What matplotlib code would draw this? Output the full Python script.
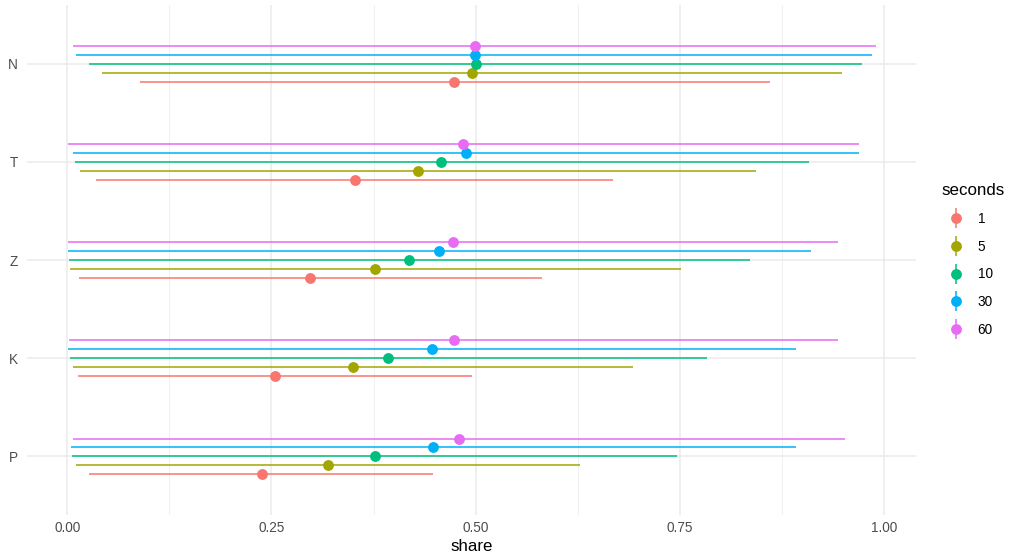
import matplotlib.pyplot as plt
from matplotlib.lines import Line2D
from matplotlib.legend_handler import HandlerTuple
from matplotlib.ticker import MultipleLocator

plt.rcParams['font.family'] = ['Liberation Sans', 'DejaVu Sans']

# categories bottom -> top
cats = ['P', 'K', 'Z', 'T', 'N']
seconds = ['1', '5', '10', '30', '60']
colors = ['#F8766D', '#A3A500', '#00BF7D', '#00B0F6', '#E76BF3']

# point estimates, per series, in category order P, K, Z, T, N
share = {
    '1':  [0.238, 0.254, 0.297, 0.352, 0.473],
    '5':  [0.319, 0.350, 0.377, 0.430, 0.495],
    '10': [0.377, 0.393, 0.419, 0.458, 0.500],
    '30': [0.448, 0.447, 0.455, 0.488, 0.499],
    '60': [0.480, 0.473, 0.472, 0.485, 0.499],
}
lower = {
    '1':  [0.027, 0.013, 0.014, 0.035, 0.089],
    '5':  [0.010, 0.007, 0.003, 0.015, 0.043],
    '10': [0.006, 0.003, 0.002, 0.009, 0.026],
    '30': [0.005, 0.001, 0.001, 0.007, 0.010],
    '60': [0.007, 0.002, 0.001, 0.001, 0.007],
}
upper = {
    '1':  [0.448, 0.495, 0.581, 0.668, 0.860],
    '5':  [0.628, 0.693, 0.751, 0.844, 0.949],
    '10': [0.747, 0.784, 0.836, 0.908, 0.973],
    '30': [0.893, 0.893, 0.911, 0.969, 0.986],
    '60': [0.952, 0.944, 0.944, 0.970, 0.990],
}

dodge = 0.09

fig, ax = plt.subplots(figsize=(10.1, 5.56), dpi=100)
fig.subplots_adjust(left=0.0267, right=0.907, top=0.991, bottom=0.0737)

handles = []
for i, (s, c) in enumerate(zip(seconds, colors)):
    ys = [k + (i - 2) * dodge for k in range(len(cats))]
    ax.hlines(ys, lower[s], upper[s], color=c, lw=1.1, zorder=3)
    ax.plot(share[s], ys, 'o', color=c, ms=7.8, mew=0, zorder=4)
    h = (Line2D([], [], color=c, marker='|', ms=15, mew=1.1, ls='none'),
         Line2D([], [], color=c, marker='o', ms=7.8, mew=0, ls='none'))
    handles.append(h)

ax.set_xlim(-0.0495, 1.0395)
ax.set_ylim(-0.6, 4.6)
ax.set_yticks(range(len(cats)))
ax.set_yticklabels(cats)
ax.xaxis.set_minor_locator(MultipleLocator(0.125))
ax.set_xticks([0, 0.25, 0.5, 0.75, 1.0])
ax.set_xticklabels(['0.00', '0.25', '0.50', '0.75', '1.00'])

ax.grid(which='major', color='#EBEBEB', lw=1.1, zorder=0)
ax.grid(which='minor', axis='x', color='#EBEBEB', lw=0.55, zorder=0)
ax.set_axisbelow(True)
for sp in ax.spines.values():
    sp.set_visible(False)
ax.tick_params(which='both', length=0)
ax.tick_params(axis='both', labelsize=9.8, labelcolor='#4D4D4D', pad=4)
ax.tick_params(axis='y', pad=6.5)

ax.set_xlabel('share', fontsize=12.2, labelpad=3)

leg = ax.legend(handles, seconds, handler_map={tuple: HandlerTuple(ndivide=1)},
                title='seconds', loc='center left', bbox_to_anchor=(1.015, 0.5),
                frameon=False, fontsize=9.8, title_fontsize=12.2,
                handlelength=2.1, handletextpad=0.55, labelspacing=1.0,
                alignment='left')

fig.savefig('out.png', dpi=100)
